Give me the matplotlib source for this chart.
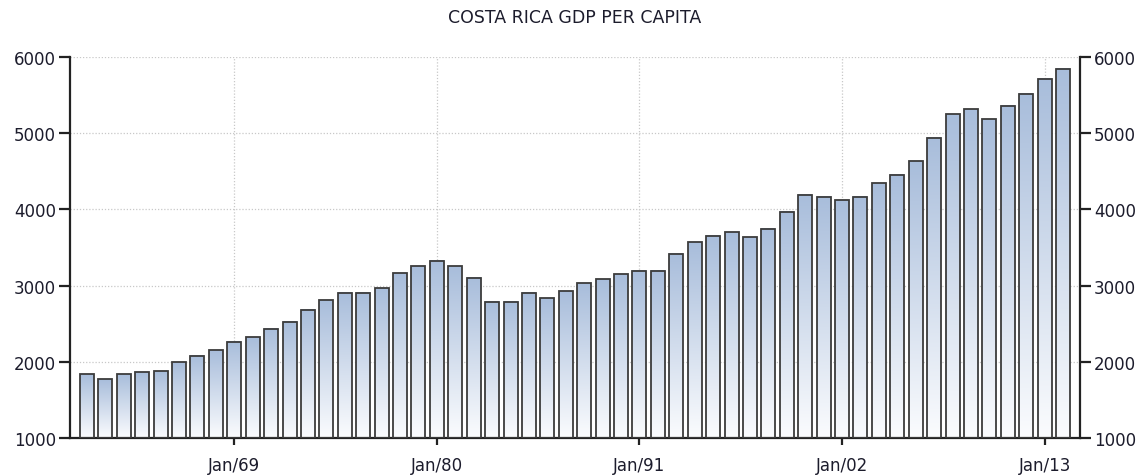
#!/usr/bin/env python3
"""Costa Rica GDP per capita, yearly bars with a vertical gradient fill."""
import matplotlib

matplotlib.use("Agg")
import matplotlib.pyplot as plt
import numpy as np
from matplotlib.colors import LinearSegmentedColormap

years = list(range(1961, 2015))
gdp = [
    1835, 1770, 1835, 1862, 1879, 1997, 2080, 2150, 2260, 2325,
    2435, 2527, 2680, 2811, 2903, 2903, 2968, 3165, 3257, 3327,
    3257, 3104, 2789, 2789, 2903, 2837, 2925, 3034, 3082, 3148,
    3192, 3192, 3415, 3568, 3655, 3703, 3633, 3747, 3966, 4193,
    4163, 4119, 4163, 4346, 4456, 4631, 4941, 5248, 5313, 5182,
    5357, 5519, 5716, 5847,
]
tick_years = [1969, 1980, 1991, 2002, 2013]
tick_labels = ["Jan/69", "Jan/80", "Jan/91", "Jan/02", "Jan/13"]
y_ticks = [1000, 2000, 3000, 4000, 5000, 6000]

TEXT = "#1c1c2c"
EDGE = "#3c3c3c"
grad = LinearSegmentedColormap.from_list("bar", ["#fbfcfe", "#a8bddb"])
plt.rcParams["font.family"] = "DejaVu Sans"

fig = plt.figure(figsize=(11.46, 4.77), dpi=100)
ax = fig.add_axes([70 / 1146, 38 / 477, 1010 / 1146, 381 / 477])

ymin = 1000
width = 0.76
gradient = np.linspace(0, 1, 256).reshape(-1, 1)
for x, v in zip(years, gdp):
    x0 = x - width / 2
    ax.imshow(gradient, extent=(x0, x0 + width, ymin, v), origin="lower",
              cmap=grad, aspect="auto", zorder=2, interpolation="bicubic")
    ax.bar(x, v - ymin, bottom=ymin, width=width, facecolor="none",
           edgecolor=EDGE, linewidth=1.3, zorder=3)

ax.set_xlim(years[0] - 0.92, years[-1] + 0.92)
ax.set_ylim(1000, 6000)
ax.set_xticks(tick_years)
ax.set_xticklabels(tick_labels)
ax.set_yticks(y_ticks)
ax.grid(True, color="#c8c8c8", linestyle=(0, (1, 1.5)), linewidth=0.9, zorder=1)
ax.set_axisbelow(True)

for side in ("left", "right", "bottom"):
    ax.spines[side].set_color("#222222")
    ax.spines[side].set_linewidth(1.6)
ax.spines["top"].set_visible(False)

ax.tick_params(axis="y", which="both", left=True, right=True, labelleft=True,
               labelright=True, length=8, width=1.6, color="#222222",
               labelsize=12, labelcolor=TEXT, pad=2)
ax.tick_params(axis="x", length=5, width=1.6, color="#222222",
               labelsize=12, labelcolor=TEXT, pad=8)

fig.text(0.5017, 1 - 18 / 477, "COSTA RICA GDP PER CAPITA", ha="center",
         va="center", fontsize=12.5, color=TEXT)

fig.savefig("out.png", dpi=100)
